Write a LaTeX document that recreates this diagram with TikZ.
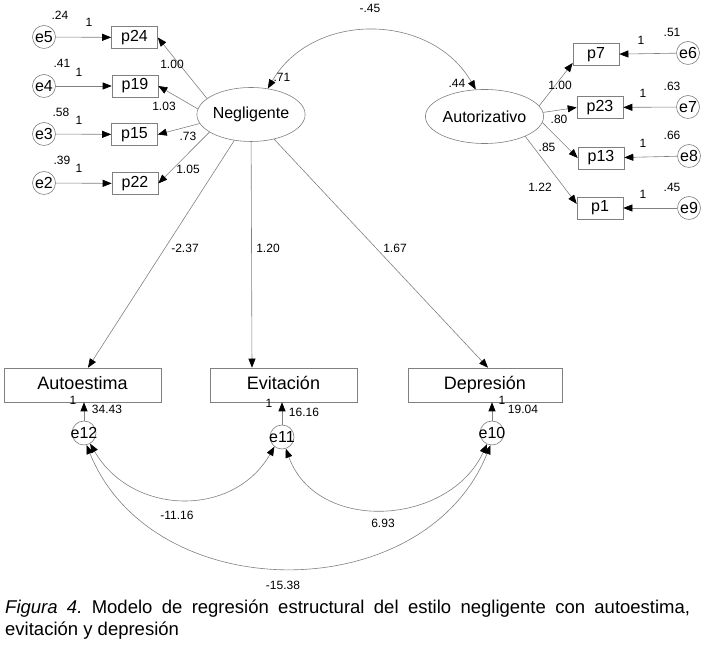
\documentclass[tikz,border=0pt]{standalone}
\usepackage{fontspec}
\setmainfont{Liberation Sans}
\usetikzlibrary{arrows.meta,shapes.geometric}
\definecolor{lineGray}{gray}{0.5}

\begin{document}
\begin{tikzpicture}[x=1pt,y=1pt,
  obs/.style={shape=rectangle, draw=lineGray, line width=0.6pt, minimum width=46pt, minimum height=22pt, inner sep=0pt, font=\fontsize{16}{18}\selectfont},
  err/.style={shape=circle, draw=lineGray, line width=0.6pt, minimum size=23pt, inner sep=0pt, font=\fontsize{16}{18}\selectfont},
  lat/.style={shape=ellipse, draw=lineGray, line width=0.6pt, minimum height=54pt, inner sep=0pt, font=\fontsize{16}{18}\selectfont},
  endo/.style={shape=rectangle, draw=lineGray, line width=0.6pt, minimum height=34pt, inner sep=0pt, text height=13pt, text depth=4pt, font=\fontsize{18}{20}\selectfont},
  num/.style={inner sep=0pt, font=\fontsize{12}{14}\selectfont},
  reg/.style={draw=lineGray, line width=0.6pt, -{Triangle[length=9pt,width=7pt,color=black]}},
  cov/.style={draw=lineGray, line width=0.6pt, {Triangle[length=9pt,width=7pt,color=black]}-{Triangle[length=9pt,width=7pt,color=black]}}]
\useasboundingbox (0,0) rectangle (710,653);

\node[lat, minimum width=98pt] (neg) at (251,538.5) {Negligente};
\node[lat, minimum width=104pt] (aut) at (484.5,536.5) {Autorizativo};

\node[obs] (p24) at (134.5,615.5) {p24};
\node[obs] (p19) at (135,567) {p19};
\node[obs] (p15) at (134.5,518.5) {p15};
\node[obs] (p22) at (135,469.5) {p22};
\node[err] (e5) at (44,616) {e5};
\node[err] (e4) at (44,567) {e4};
\node[err] (e3) at (44,519) {e3};
\node[err] (e2) at (44,470) {e2};

\node[obs] (p7) at (596,598.5) {p7};
\node[obs] (p23) at (600,545.5) {p23};
\node[obs] (p13) at (601,495) {p13};
\node[obs] (p1) at (600,445) {p1};
\node[err] (e6) at (688,600) {e6};
\node[err] (e7) at (688,546) {e7};
\node[err] (e8) at (689,497) {e8};
\node[err] (e9) at (689,445) {e9};

\node[endo, minimum width=157pt] (auto) at (82.5,268) {Autoestima};
\node[endo, minimum width=147pt] (evi) at (283.5,268) {Evitación};
\node[endo, minimum width=154pt] (depr) at (485,268) {Depresión};
\node[err, minimum size=24pt] (e12) at (84,220) {\makebox[0pt]{e12}};
\node[err, minimum size=24pt] (e11) at (282,216) {\makebox[0pt]{e11}};
\node[err, minimum size=24pt] (e10) at (492,220) {\makebox[0pt]{e10}};

\draw[reg] (e5) -- (p24);
\draw[reg] (e4) -- (p19);
\draw[reg] (e3) -- (p15);
\draw[reg] (e2) -- (p22);
\draw[reg] (e6) -- (p7);
\draw[reg] (e7) -- (p23);
\draw[reg] (e8) -- (p13);
\draw[reg] (e9) -- (p1);

\draw[reg] (neg.160) -- (p24.east);
\draw[reg] (neg.174) -- (p19.east);
\draw[reg] (neg.190) -- (p15.east);
\draw[reg] (neg.203) -- (p22.east);
\draw[reg] (aut.11) -- (p7.200);
\draw[reg] (aut.4) -- (p23.west);
\draw[reg] (aut.-6) -- (p13.west);
\draw[reg] (aut.-26) -- (p1.170);

\draw[reg] (neg) -- ([xshift=5.5pt]auto.north);
\draw[reg] (neg) -- ([xshift=-31.5pt]evi.north);
\draw[reg] (neg) -- ([xshift=3pt]depr.north);
\draw[reg] (e12) -- (e12 |- auto.south);
\draw[reg] (e11) -- (e11 |- evi.south);
\draw[reg] (e10) -- (e10 |- depr.south);

\draw[cov] (neg.57) to[out=60, in=120, looseness=1.1] (aut.108);
\draw[cov] (e12.300) to[out=-60, in=-120, looseness=1.15] (e11.232);
\draw[cov] (e11.288) to[out=-70, in=-115, looseness=1.15] (e10.246);
\draw[cov] (e12.282) to[out=-68, in=-112, looseness=1.12] (e10.263);

\node[num] (v5) at (60,638) {.24};
\node[num] (w5) at (89,631) {1};
\node[num] (v4) at (62,590) {.41};
\node[num] (w4) at (79,581) {1};
\node[num] (v3) at (61,541) {.58};
\node[num] (w3) at (79,533) {1};
\node[num] (v2) at (62,493) {.39};
\node[num] (w2) at (79,485) {1};
\node[num] (l24) at (172,589) {1.00};
\node[num] (l19) at (164,547) {1.03};
\node[num] (l15) at (188,517) {.73};
\node[num] (l22) at (188,484) {1.05};
\node[num] (vneg) at (282,576) {.71};

\node[num] (v6) at (672,621) {.51};
\node[num] (w6) at (641,613) {1};
\node[num] (v7) at (672,567) {.63};
\node[num] (w7) at (643,560) {1};
\node[num] (v8) at (672,518) {.66};
\node[num] (w8) at (643,510) {1};
\node[num] (v9) at (672,466) {.45};
\node[num] (w9) at (643,459) {1};
\node[num] (l7) at (560,568) {1.00};
\node[num] (l23) at (559,534) {.80};
\node[num] (l13) at (547,506) {.85};
\node[num] (l1) at (540,466) {1.22};
\node[num] (vaut) at (457,570) {.44};
\node[num] (cna) at (370,645) {-.45};

\node[num] (bauto) at (185,405) {-2.37};
\node[num] (bevi) at (268,405) {1.20};
\node[num] (bdep) at (395,405) {1.67};
\node[num] (w12) at (73,253) {1};
\node[num] (v12) at (107,244) {34.43};
\node[num] (w11) at (269,250) {1};
\node[num] (v11) at (304,241) {16.16};
\node[num] (w10) at (502,253) {1};
\node[num] (v10) at (523,244) {19.04};
\node[num] (c1211) at (177,138) {-11.16};
\node[num] (c1110) at (383,130) {6.93};
\node[num] (c1210) at (283,68) {-15.38};

\node[anchor=base west, inner sep=0pt, font=\fontsize{18.5}{22}\selectfont] (cap1) at (5,39)
  {\frenchspacing\makebox[685pt][s]{\textit{Figura 4.} Modelo de regresión estructural del estilo negligente con autoestima,}};
\node[anchor=base west, inner sep=0pt, font=\fontsize{18.5}{22}\selectfont] (cap2) at (5,17)
  {evitación y depresión};
\end{tikzpicture}
\end{document}
